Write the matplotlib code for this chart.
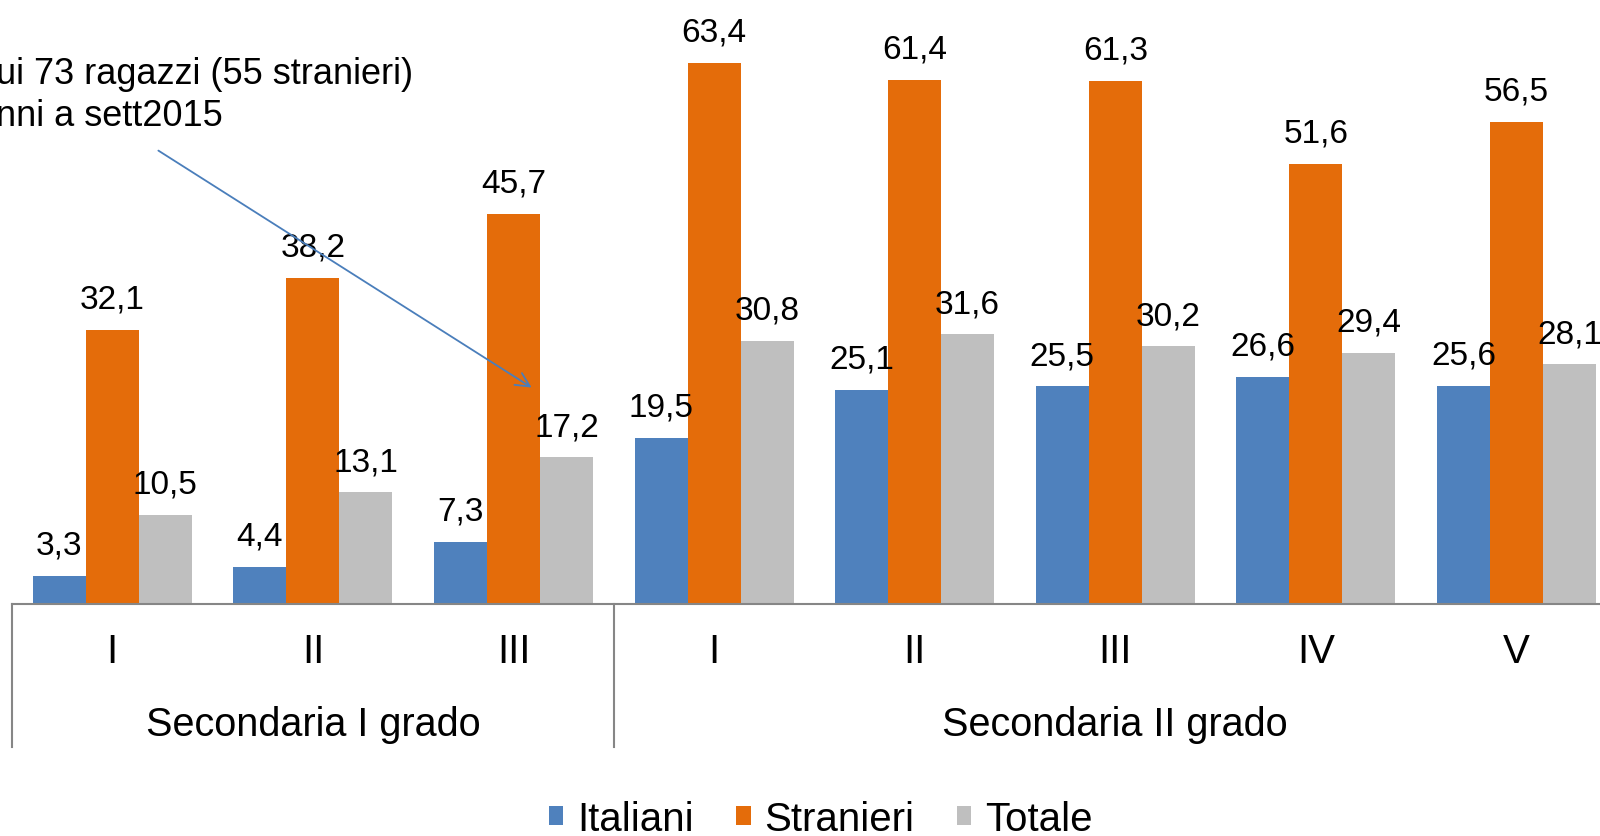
import matplotlib.pyplot as plt
import matplotlib.transforms as mtransforms
import numpy as np

plt.rcParams['font.family'] = ['Liberation Sans', 'DejaVu Sans']

classi = ['I', 'II', 'III', 'I', 'II', 'III', 'IV', 'V']
gradi = ['Secondaria I grado', 'Secondaria II grado']
gradi_n = [3, 5]
serie = ['Italiani', 'Stranieri', 'Totale']
italiani = [3.3, 4.4, 7.3, 19.5, 25.1, 25.5, 26.6, 25.6]
stranieri = [32.1, 38.2, 45.7, 63.4, 61.4, 61.3, 51.6, 56.5]
totale = [10.5, 13.1, 17.2, 30.8, 31.6, 30.2, 29.4, 28.1]
colori = ['#4F81BD', '#E46C0A', '#BFBFBF']

fig = plt.figure(figsize=(16, 8.37), dpi=100)
# the plot area runs a little past the right edge of the figure
ax = fig.add_axes([0.0075, 0.277, 1.003, 0.714])

x = np.arange(len(classi))
w = 0.264
for k, (vals, col, nome) in enumerate(zip([italiani, stranieri, totale], colori, serie)):
    bars = ax.bar(x + (k - 1) * w, vals, w, color=col, label=nome, zorder=2)
    for b, v in zip(bars, vals):
        ax.annotate(f'{v:.1f}'.replace('.', ','),
                    (b.get_x() + b.get_width() / 2, v),
                    xytext=(0, 16), textcoords='offset points',
                    ha='center', va='baseline', fontsize=24, zorder=5)

ax.set_xlim(-0.5, len(classi) - 0.5)
ax.set_ylim(0, 70)
for s in ['top', 'left', 'right']:
    ax.spines[s].set_visible(False)
ax.spines['bottom'].set_color('#868686')
ax.spines['bottom'].set_linewidth(1.5)
ax.set_xticks([])
ax.set_yticks([])

# two-level category axis
for xi, lab in zip(x, classi):
    ax.annotate(lab, (xi, 0), xytext=(0, -33.5), textcoords='offset points',
                ha='center', va='center', fontsize=29)

trans = mtransforms.blended_transform_factory(ax.transData, ax.transAxes)
start = 0
seps = [-0.5]
for nome, n in zip(gradi, gradi_n):
    centro = start + (n - 1) / 2
    ax.annotate(nome, (centro, 0), xytext=(0, -86), textcoords='offset points',
                ha='center', va='center', fontsize=28.5)
    start += n
    seps.append(start - 0.5)
for s in seps:
    ax.plot([s, s], [0, -0.239], transform=trans, color='#868686',
            lw=1.5, clip_on=False)

# note with arrow
fig.text(-0.0025, 1 - 75 / 837, 'ui 73 ragazzi (55 stranieri)',
         ha='left', va='center', fontsize=26)
fig.text(-0.0025, 1 - 117 / 837, 'nni a sett2015',
         ha='left', va='center', fontsize=26)
ax.annotate('', xy=(2.102, 25.2), xytext=(0.218, 53.3),
            arrowprops=dict(arrowstyle='->', color='#4A7EBB', lw=1.3,
                            mutation_scale=25), zorder=6)

fig.legend(loc='center', bbox_to_anchor=(0.513, 17 / 837), ncol=3,
           frameon=False, fontsize=29, handlelength=0.36, handleheight=0.36,
           handletextpad=0.35, columnspacing=1.05, borderpad=0)

fig.savefig('out.png', dpi=100)
